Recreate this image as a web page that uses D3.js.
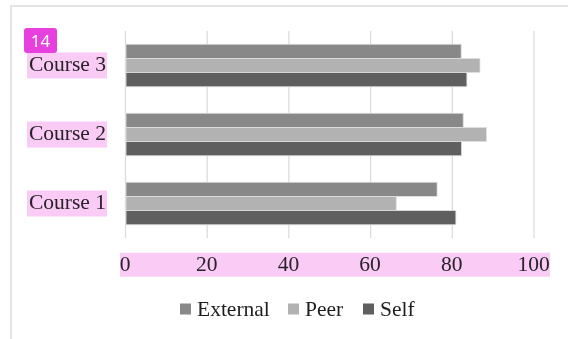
<!DOCTYPE html>
<html>
<head>
<meta charset="utf-8">
<script src="https://cdn.jsdelivr.net/npm/d3@7"></script>
<style>
html,body{margin:0;padding:0;background:#fff;}
svg{display:block;}
</style>
</head>
<body>
<svg id="chart" width="568" height="339"></svg>
<script>
const categories = ["Course 3", "Course 2", "Course 1"];
const seriesNames = ["External", "Peer", "Self"];
const externalValues = [82.3, 82.8, 76.4];
const peerValues = [86.9, 88.5, 66.4];
const selfValues = [83.7, 82.4, 81.0];
const xTicks = [0, 20, 40, 60, 80, 100];
const badgeLabel = "14";

const seriesValues = [externalValues, peerValues, selfValues];
const colors = ["#888888", "#b2b2b2", "#5f5f5f"];
const serif = "'Palatino Linotype','Book Antiqua',Palatino,'Liberation Serif',serif";
const fs = 21.5;

const svg = d3.select("#chart");

// outer frame (only top & left visible)
svg.append("rect").attr("x", 11).attr("y", 6).attr("width", 700).attr("height", 500)
  .attr("fill", "none").attr("stroke", "#e4e4e4").attr("stroke-width", 2);

const x = d3.scaleLinear().domain([0, 100]).range([125, 533.5]);
const y = d3.scaleBand().domain(categories).range([31, 238]).paddingInner(0.383).paddingOuter(0.1915);
const ySub = d3.scaleBand().domain(seriesNames).range([0, y.bandwidth()]);

// gridlines
svg.append("g").selectAll("line").data(xTicks).join("line")
  .attr("x1", d => x(d) + 0.5).attr("x2", d => x(d) + 0.5)
  .attr("y1", 31).attr("y2", 238)
  .attr("stroke", "#d9d9d9").attr("stroke-width", 1.2);

// bars
const rows = [];
categories.forEach((c, i) => seriesNames.forEach((s, j) => rows.push({c, s, v: seriesValues[j][i], color: colors[j]})));
svg.append("g").selectAll("rect").data(rows).join("rect")
  .attr("x", x(0) + 1)
  .attr("y", d => y(d.c) + ySub(d.s))
  .attr("width", d => x(d.v) - x(0) - 1)
  .attr("height", ySub.bandwidth())
  .attr("fill", d => d.color)
  .attr("stroke", "#e2e2e2").attr("stroke-width", 0.8);

// y labels
svg.append("g").selectAll("text").data(categories).join("text")
  .attr("x", 106).attr("y", d => y(d) + y.bandwidth() / 2)
  .attr("dy", "0.25em").attr("text-anchor", "end")
  .attr("font-family", serif).attr("font-size", fs).attr("fill", "#2a2a2a")
  .text(d => d);

// x labels
svg.append("g").selectAll("text").data(xTicks).join("text")
  .attr("x", d => x(d)).attr("y", 271)
  .attr("text-anchor", "middle")
  .attr("font-family", serif).attr("font-size", fs).attr("fill", "#2a2a2a")
  .text(d => d);

// pink highlights (multiply over text)
const hl = svg.append("g");
categories.forEach(c => {
  const cy = y(c) + y.bandwidth() / 2;
  hl.append("rect").attr("x", 27).attr("y", cy - 13).attr("width", 80).attr("height", 26)
    .attr("fill", "#f9cbf5").style("mix-blend-mode", "multiply");
});
hl.append("rect").attr("x", 120).attr("y", 252.7).attr("width", 430).attr("height", 24)
  .attr("fill", "#f9cbf5").style("mix-blend-mode", "multiply");

// badge
svg.append("rect").attr("x", 24).attr("y", 28).attr("width", 33).attr("height", 25).attr("rx", 3)
  .attr("fill", "#e83fdf");
svg.append("text").attr("x", 40.5).attr("y", 47).attr("text-anchor", "middle")
  .attr("font-family", "'Noto Sans',Roboto,sans-serif").attr("font-size", 17).attr("fill", "#fff")
  .text(badgeLabel);

// legend
const legendX = [180, 288, 363];
const lg = svg.append("g");
seriesNames.forEach((s, j) => {
  lg.append("rect").attr("x", legendX[j]).attr("y", 303.5).attr("width", 11).attr("height", 11).attr("fill", colors[j]);
  lg.append("text").attr("x", legendX[j] + 17).attr("y", 316)
    .attr("font-family", serif).attr("font-size", fs).attr("fill", "#1e1e1e")
    .text(s);
});
</script>
</body>
</html>
